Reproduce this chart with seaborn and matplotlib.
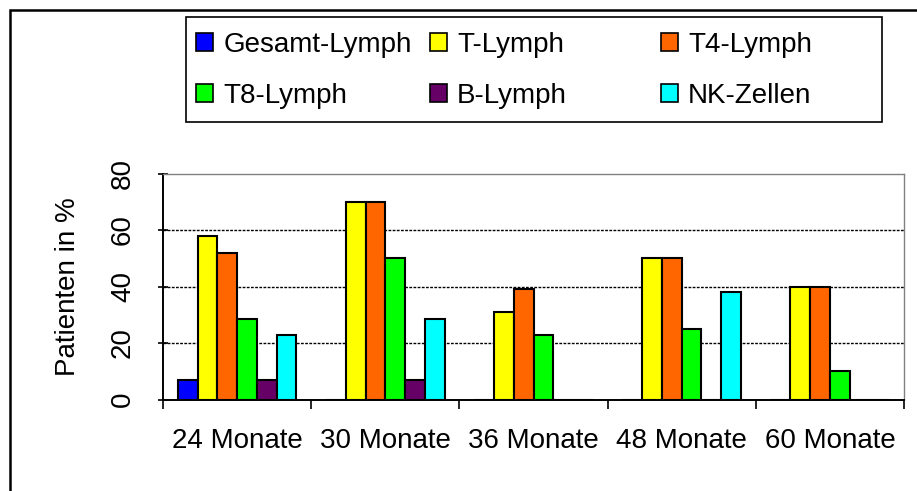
import matplotlib
matplotlib.use("Agg")
import matplotlib.pyplot as plt
import seaborn as sns
import pandas as pd
from matplotlib.patches import Patch, Rectangle

# ---- data ----
categories = ["24 Monate", "30 Monate", "36 Monate", "48 Monate", "60 Monate"]
series = ["Gesamt-Lymph", "T-Lymph", "T4-Lymph", "T8-Lymph", "B-Lymph", "NK-Zellen"]
gesamt_lymph = [7, 0, 0, 0, 0]
t_lymph = [58, 70, 31, 50, 40]
t4_lymph = [52, 70, 39, 50, 40]
t8_lymph = [28.5, 50, 23, 25, 10]
b_lymph = [7, 7, 0, 0, 0]
nk_zellen = [23, 28.5, 0, 38, 0]
y_ticks = [0, 20, 40, 60, 80]
colors = ["#0000FF", "#FFFF00", "#FF6600", "#00FF00", "#660066", "#00FFFF"]
y_label = "Patienten in %"

values = [gesamt_lymph, t_lymph, t4_lymph, t8_lymph, b_lymph, nk_zellen]
rows = []
for s, vals in zip(series, values):
    for c, v in zip(categories, vals):
        rows.append({"Zeit": c, "Reihe": s, "Wert": v})
df = pd.DataFrame(rows)

sns.set_theme(style="white")
plt.rcParams['font.family'] = ['Liberation Sans', 'DejaVu Sans']

W, H = 917, 491
fig = plt.figure(figsize=(W / 100, H / 100), dpi=100)
fig.patch.set_facecolor("white")

ax_l, ax_r, ax_t, ax_b = 163, 904, 173.5, 399.5
ax = fig.add_axes([ax_l / W, 1 - ax_b / H, (ax_r - ax_l) / W, (ax_b - ax_t) / H])

sns.barplot(data=df, x="Zeit", y="Wert", hue="Reihe", order=categories,
            hue_order=series, palette=colors, width=0.8, saturation=1,
            edgecolor="black", linewidth=1.5, legend=False, ax=ax)

ax.set_xlim(-0.5, len(categories) - 0.5)
ax.set_ylim(0, 80)
ax.set_yticks(y_ticks)
ax.set_xlabel("")
ax.set_ylabel(y_label, fontsize=20, labelpad=21)

ax.set_axisbelow(True)
ax.yaxis.grid(True, color="black", linestyle=(0, (2, 1)), linewidth=1.0)
ax.xaxis.grid(False)
for gl in ax.yaxis.get_gridlines()[-1:]:
    gl.set_visible(False)

for side in ["left", "bottom"]:
    ax.spines[side].set_color("black")
    ax.spines[side].set_linewidth(1.4)
for side in ["top", "right"]:
    ax.spines[side].set_color("#808080")
    ax.spines[side].set_linewidth(1.0)

ax.tick_params(axis="y", which="major", direction="inout", length=7, width=1.2,
               color="black", labelsize=20, labelrotation=90, pad=16, left=True)
for lab in ax.get_yticklabels():
    lab.set_va("center")

ax.set_xticks([i - 0.5 for i in range(len(categories) + 1)], minor=True)
ax.tick_params(axis="x", which="major", length=0, labelsize=20, pad=20.5)
ax.tick_params(axis="x", which="minor", direction="out", length=6.5, width=1.2,
               color="black", bottom=True)
for lab in ax.get_xticklabels():
    lab.set_color("black")
for lab in ax.get_yticklabels():
    lab.set_color("black")
ax.yaxis.label.set_color("black")

# ---- figure border (extends beyond right/bottom edge) ----
border = Rectangle((10 / W, -0.5), 2.0, (1 - 10 / H) + 0.5, transform=fig.transFigure,
                   fill=False, edgecolor="black", linewidth=1.8, clip_on=False)
fig.patches.append(border)

# ---- legend frame ----
lx0, lx1, ly0, ly1 = 186, 882, 17, 122
frame = Rectangle((lx0 / W, 1 - ly1 / H), (lx1 - lx0) / W, (ly1 - ly0) / H,
                  transform=fig.transFigure, fill=False, edgecolor="black",
                  linewidth=1.2, clip_on=False)
fig.patches.append(frame)

handles = [Patch(facecolor=c, edgecolor="black", linewidth=1.2) for c in colors]
col_x = [196, 430, 661]
col_items = [[0, 3], [1, 4], [2, 5]]
for x, idx in zip(col_x, col_items):
    leg = fig.legend([handles[i] for i in idx], [series[i] for i in idx],
                     loc="upper left", bbox_to_anchor=(x / W, 1 - 32 / H),
                     bbox_transform=fig.transFigure, frameon=False, fontsize=20,
                     borderpad=0, borderaxespad=0, handlelength=0.62,
                     handleheight=0.62, handletextpad=0.36, labelspacing=0.89)
    for t in leg.get_texts():
        t.set_color("black")

fig.savefig("out.png", dpi=100, facecolor="white")
